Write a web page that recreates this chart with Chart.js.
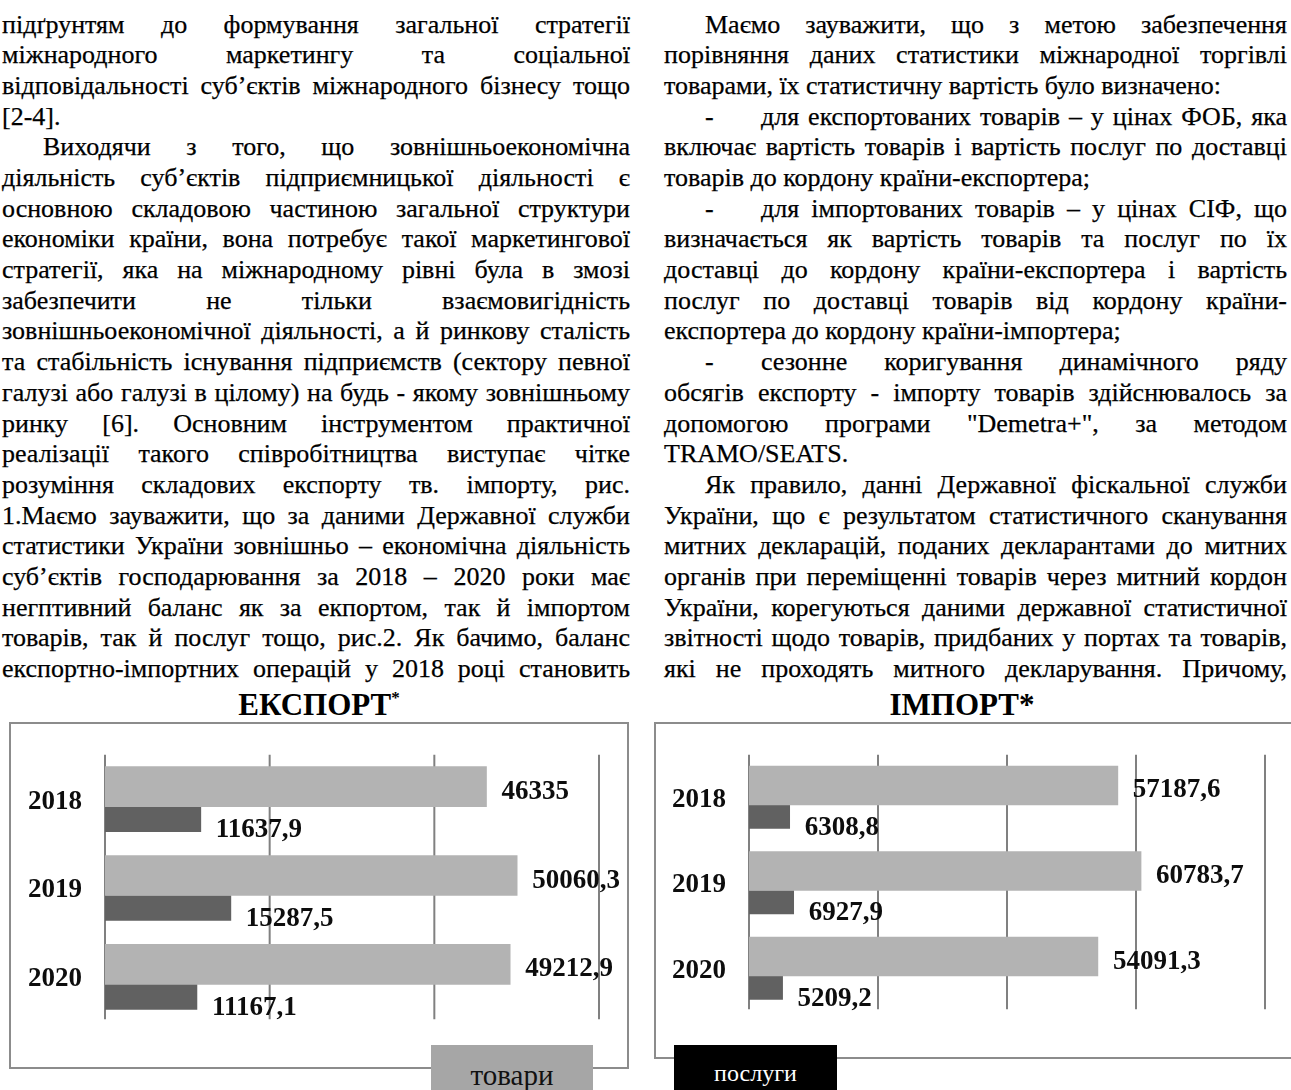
<!DOCTYPE html>
<html lang="uk">
<head>
<meta charset="utf-8">
<title>Експорт та імпорт товарів і послуг</title>
<script src="https://cdn.jsdelivr.net/npm/chart.js@4.4.1/dist/chart.umd.min.js"></script>
<style>
  html, body { margin: 0; padding: 0; background: #fff; }
  body { width: 1291px; height: 1090px; overflow: hidden; position: relative;
         font-family: "Liberation Serif", "Times New Roman", serif; color: #000; }
  .col { position: absolute; top: 9.6px; }
  #colL { left: 2px; width: 628px; }
  #colR { left: 664px; width: 623px; }
  .ln { font-size: 26px; line-height: 30.7px; height: 30.7px; text-align: justify; text-align-last: justify;
        -webkit-text-stroke: 0.25px #000; }
  .ln.last { text-align-last: left; }
  .ln.ind { padding-left: 41px; }
  .dash { display: inline-block; width: 56px; }
  .title { position: absolute; top: 688px; height: 34px; line-height: 34px; font-size: 31px;
           font-weight: bold; text-align: center; color: #000; }
  .title sup { font-size: 17px; vertical-align: 0; position: relative; top: -12px; }
  .frame { position: absolute; box-sizing: border-box; border: 2px solid #8c8c8c; }
  canvas { position: absolute; }
  .key { position: absolute; top: 1045px; height: 60px; box-sizing: border-box; text-align: center; }
</style>
</head>
<body>

<div class="col" id="colL">
  <div class="ln">підґрунтям до формування загальної стратегії</div>
  <div class="ln">міжнародного маркетингу та соціальної</div>
  <div class="ln">відповідальності суб’єктів міжнародного бізнесу тощо</div>
  <div class="ln last">[2-4].</div>
  <div class="ln ind">Виходячи з того, що зовнішньоекономічна</div>
  <div class="ln">діяльність суб’єктів підприємницької діяльності є</div>
  <div class="ln">основною складовою частиною загальної структури</div>
  <div class="ln">економіки країни, вона потребує такої маркетингової</div>
  <div class="ln">стратегії, яка на міжнародному рівні була в змозі</div>
  <div class="ln">забезпечити не тільки взаємовигідність</div>
  <div class="ln">зовнішньоекономічної діяльності, а й ринкову сталість</div>
  <div class="ln">та стабільність існування підприємств (сектору певної</div>
  <div class="ln">галузі або галузі в цілому) на будь - якому зовнішньому</div>
  <div class="ln">ринку [6]. Основним інструментом практичної</div>
  <div class="ln">реалізації такого співробітництва виступає чітке</div>
  <div class="ln">розуміння складових експорту тв. імпорту, рис.</div>
  <div class="ln">1.Маємо зауважити, що за даними Державної служби</div>
  <div class="ln">статистики України зовнішньо – економічна діяльність</div>
  <div class="ln">суб’єктів господарювання за 2018 – 2020 роки має</div>
  <div class="ln">негптивний баланс як за екпортом, так й імпортом</div>
  <div class="ln">товарів, так й послуг тощо, рис.2. Як бачимо, баланс</div>
  <div class="ln">експортно-імпортних операцій у 2018 році становить</div>
</div>

<div class="col" id="colR">
  <div class="ln ind">Маємо зауважити, що з метою забезпечення</div>
  <div class="ln">порівняння даних статистики міжнародної торгівлі</div>
  <div class="ln last">товарами, їх статистичну вартість було визначено:</div>
  <div class="ln ind"><span class="dash">-</span>для експортованих товарів – у цінах ФОБ, яка</div>
  <div class="ln">включає вартість товарів і вартість послуг по доставці</div>
  <div class="ln last">товарів до кордону країни-експортера;</div>
  <div class="ln ind"><span class="dash">-</span>для імпортованих товарів – у цінах СІФ, що</div>
  <div class="ln">визначається як вартість товарів та послуг по їх</div>
  <div class="ln">доставці до кордону країни-експортера і вартість</div>
  <div class="ln">послуг по доставці товарів від кордону країни-</div>
  <div class="ln last">експортера до кордону країни-імпортера;</div>
  <div class="ln ind"><span class="dash">-</span>сезонне коригування динамічного ряду</div>
  <div class="ln">обсягів експорту - імпорту товарів здійснювалось за</div>
  <div class="ln">допомогою програми "Demetra+", за методом</div>
  <div class="ln last">TRAMO/SEATS.</div>
  <div class="ln ind">Як правило, данні Державної фіскальної служби</div>
  <div class="ln">України, що є результатом статистичного сканування</div>
  <div class="ln">митних декларацій, поданих декларантами до митних</div>
  <div class="ln">органів при переміщенні товарів через митний кордон</div>
  <div class="ln">України, корегуються даними державної статистичної</div>
  <div class="ln">звітності щодо товарів, придбаних у портах та товарів,</div>
  <div class="ln">які не проходять митного декларування. Причому,</div>
</div>

<div class="title" style="left:10px; width:618px;">ЕКСПОРТ<sup>*</sup></div>
<div class="title" style="left:888px; width:148px;">ІМПОРТ*</div>

<div class="frame" style="left:9px; top:722px; width:620px; height:347px;"></div>
<div class="frame" style="left:654px; top:722px; width:660px; height:337px;"></div>

<canvas id="exportChart" width="618" height="345" style="left:10px; top:723px;"></canvas>
<canvas id="importChart" width="636" height="335" style="left:655px; top:723px;"></canvas>

<div class="key" id="keyGoods" style="left:431px; width:162px; background:#a6a6a6; color:#111; font-size:29px; line-height:33px; padding-top:14px;"></div>
<div class="key" id="keyServices" style="left:674px; width:163px; background:#000; color:#fff; font-size:24px; line-height:28px; padding-top:14px;"></div>

<script>
// Years on the category axis
const years = ['2018', '2019', '2020'];
// Series names: goods, services
const seriesNames = ['товари', 'послуги'];

// Export, 2018–2020
const exportGoods = [46335, 50060.3, 49212.9];
const exportServices = [11637.9, 15287.5, 11167.1];

// Import, 2018–2020
const importGoods = [57187.6, 60783.7, 54091.3];
const importServices = [6308.8, 6927.9, 5209.2];

// Value axes (ticks every 20000, no tick labels shown)
const exportAxisMax = 60000;
const importAxisMax = 80000;
const axisStep = 20000;

const SERIF = '"Liberation Serif", "Times New Roman", serif';
const GOODS_COLOR = '#b3b3b3';
const SERVICES_COLOR = '#616161';

// fit long justified lines on one line by tightening word spacing
document.querySelectorAll('.ln').forEach(el => {
  const prevAlign = el.style.textAlignLast;
  el.style.whiteSpace = 'nowrap';
  el.style.textAlignLast = 'left';
  const over = el.scrollWidth - el.clientWidth;
  if (over > 0) {
    const spaces = (el.textContent.match(/ /g) || []).length || 1;
    el.style.wordSpacing = (-(over + 1) / spaces).toFixed(2) + 'px';
  }
  el.style.whiteSpace = '';
  el.style.textAlignLast = prevAlign;
});

document.getElementById('keyGoods').textContent = seriesNames[0];
document.getElementById('keyServices').textContent = seriesNames[1];

// vertical value gridlines, drawn from the x scale ticks, a bit above/short of the plot area
const columnGrid = {
  id: 'columnGrid',
  beforeDatasetsDraw(chart, args, opts) {
    const { ctx, chartArea, scales } = chart;
    const x = scales.x;
    ctx.save();
    ctx.strokeStyle = opts.color;
    ctx.lineWidth = opts.width;
    x.ticks.forEach(t => {
      const px = x.getPixelForValue(t.value);
      ctx.beginPath();
      ctx.moveTo(px, chartArea.top - opts.above);
      ctx.lineTo(px, chartArea.bottom - opts.short);
      ctx.stroke();
    });
    ctx.restore();
  }
};

// value labels to the right of every bar
const barValues = {
  id: 'barValues',
  afterDatasetsDraw(chart, args, opts) {
    const { ctx } = chart;
    ctx.save();
    ctx.font = 'bold ' + opts.size + 'px ' + SERIF;
    ctx.fillStyle = '#0d0d0d';
    ctx.textAlign = 'left';
    ctx.textBaseline = 'alphabetic';
    chart.data.datasets.forEach((ds, di) => {
      const meta = chart.getDatasetMeta(di);
      meta.data.forEach((bar, i) => {
        const text = String(ds.data[i]).replace('.', ',');
        ctx.fillText(text, bar.x + opts.gap, bar.y + opts.drop[di]);
      });
    });
    ctx.restore();
  }
};

function makeChart(id, goods, services, axisMax, geo) {
  return new Chart(document.getElementById(id), {
    type: 'bar',
    data: {
      labels: years,
      datasets: [
        { label: seriesNames[0], data: goods, backgroundColor: GOODS_COLOR, barThickness: geo.goodsThick },
        { label: seriesNames[1], data: services, backgroundColor: SERVICES_COLOR, barThickness: geo.servThick }
      ]
    },
    options: {
      indexAxis: 'y',
      responsive: false,
      animation: false,
      events: [],
      layout: { padding: geo.padding },
      plugins: {
        legend: { display: false },
        tooltip: { enabled: false },
        columnGrid: { color: '#808080', width: 2, above: 7.5, short: 9.5 },
        barValues: { size: 27, gap: 15, drop: [12, 18] }
      },
      scales: {
        x: {
          min: 0, max: axisMax,
          ticks: { display: false, stepSize: axisStep },
          grid: { display: false, drawTicks: false },
          border: { display: false },
          afterFit(s) { s.height = 0; }
        },
        y: {
          ticks: {
            color: '#0d0d0d', padding: 23, labelOffset: -5,
            font: { family: SERIF, size: 27, weight: 'bold' }
          },
          grid: { display: false, drawTicks: false },
          border: { display: false },
          afterFit(s) { s.width = geo.axisWidth; }
        }
      }
    },
    plugins: [columnGrid, barValues]
  });
}

makeChart('exportChart', exportGoods, exportServices, exportAxisMax, {
  goodsThick: 40, servThick: 25, axisWidth: 95,
  padding: { left: 0, right: 29, top: 36.35, bottom: 19.75 }
});

makeChart('importChart', importGoods, importServices, importAxisMax, {
  goodsThick: 39, servThick: 23.5, axisWidth: 94,
  padding: { left: 0, right: 26, top: 37.75, bottom: 19.75 }
});
</script>
</body>
</html>
